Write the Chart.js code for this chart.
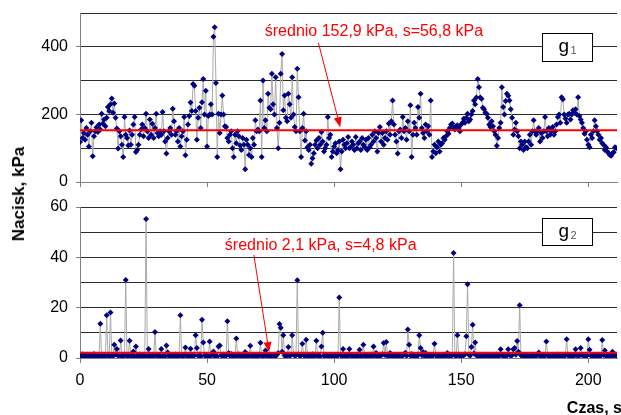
<!DOCTYPE html>
<html><head><meta charset="utf-8">
<script src="https://cdn.jsdelivr.net/npm/chart.js@4.4.1/dist/chart.umd.min.js"></script>
<style>
html,body{margin:0;padding:0;background:#fff;width:621px;height:415px;overflow:hidden;}
#c1{position:absolute;left:0;top:0;}
#c2{position:absolute;left:0;top:195px;}
#ylab{position:absolute;left:19px;top:194px;transform:translate(-50%,-50%) rotate(-90deg);font:bold 17px "Liberation Sans",Arial,sans-serif;white-space:nowrap;color:#000;}
</style></head><body>
<canvas id="c1" width="621" height="195"></canvas>
<canvas id="c2" width="621" height="220"></canvas>
<div id="ylab">Nacisk, kPa</div>
<script>
// sampling interval of the record, s
const sampleStep = 0.5;

// g1 pressure, kPa (every 0.5 s)
const g1Values = [
118,183,130,145,125,160,140,105,150,175,76,135,150,162,148,170,155,202,172,185,
165,190,222,210,230,247,205,232,190,158,99,150,135,110,74,192,140,130,108,152,
110,140,170,192,89,95,110,140,155,170,135,160,202,150,130,185,140,172,130,160,
202,145,135,150,140,207,150,120,84,130,150,160,140,217,180,140,150,120,160,105,
135,150,192,79,125,170,195,235,210,290,285,210,125,190,220,160,236,305,200,270,
105,195,200,230,200,430,458,293,74,202,145,200,256,200,165,163,130,120,140,150,
100,74,140,115,150,135,108,95,130,110,38,125,110,80,100,74,130,110,183,150,
155,150,241,74,300,160,183,150,261,220,215,320,230,200,310,160,100,175,320,379,
212,256,190,180,261,230,190,310,200,163,150,335,251,150,74,160,202,123,150,103,
95,110,54,70,85,110,123,100,130,110,148,120,90,100,110,192,130,140,74,90,
105,115,85,95,120,38,90,125,110,100,115,133,100,103,120,110,95,133,100,115,
120,95,130,110,103,125,95,130,103,110,140,120,150,130,90,145,163,120,145,110,
130,150,125,173,140,180,241,170,140,120,84,150,155,130,192,150,160,125,180,150,
227,74,140,175,160,140,222,190,261,160,145,130,170,150,165,140,241,74,90,110,
85,103,120,90,110,115,130,125,135,150,143,160,170,173,160,155,165,168,160,150,
170,175,187,175,190,202,180,185,200,210,241,230,250,305,280,250,246,220,215,205,
202,190,170,163,180,165,150,140,107,130,160,175,280,222,200,240,261,255,241,215,
190,140,155,175,150,135,100,120,110,95,120,103,100,120,140,110,150,183,150,140,
150,160,120,145,130,150,192,150,135,160,140,150,163,140,150,170,192,200,175,251,
245,200,188,175,200,202,185,200,212,205,215,200,251,195,185,175,160,143,150,125,
110,103,140,130,150,183,165,150,140,125,130,115,110,95,103,90,85,80,78,85,
88,103,100
];

// g2 pressure, kPa (every 0.5 s)
const g2Values = [
1.2,0.8,1.5,0.6,1.0,0.4,1.3,0.9,0.5,1.1,0.7,1.6,0.8,0.3,1.0,0.6,13.6,1.2,0.5,0.9,
0.8,17,1.0,0.6,18.1,1.2,0.7,5.3,1.5,3.6,0.9,0.5,7,1.1,0.6,1.3,31,0.8,1.0,6.9,
0.7,1.2,2.6,0.5,4.6,1.0,0.4,1.4,0.8,0.6,1.1,0.9,55.2,0.7,3.6,1.2,0.5,1.0,0.8,10.3,
1.1,0.6,1.3,0.9,3.6,0.4,1.0,0.7,5.0,2.2,0.8,0.3,1.2,0.6,0.9,1.4,0.5,1.1,0.8,17,
1.0,0.6,1.3,4.2,0.8,1.1,0.5,3.7,1.2,0.7,1.0,9.0,4.0,0.9,1.4,0.6,15.2,6.2,1.0,0.7,
1.2,0.5,6.6,0.9,1.3,2.6,0.7,1.0,0.6,4.6,5.0,1.1,0.8,1.4,0.5,1.0,14.6,2.0,0.9,1.6,
0.8,1.2,0.6,7.7,1.0,1.5,0.7,0.4,1.1,0.9,2.4,0.6,1.2,0.8,4.9,1.0,0.5,1.3,0.7,1.0,
0.6,1.2,6.1,0.9,0.5,1.1,3.0,0.8,1.3,0.6,1.0,0.4,1.2,0.9,0.7,1.4,2.0,13.5,12.0,2.5,
9.0,1.0,0.5,1.3,4.4,0.8,1.2,9.0,1.5,0.9,1.1,30.9,1.4,0.8,1.0,5.7,1.2,0.7,7.3,1.0,
0.6,1.3,0.9,1.5,0.7,1.1,6.9,0.8,1.2,0.6,4.6,10.0,1.0,0.5,1.3,0.9,0.7,1.1,0.6,1.0,
0.8,1.2,0.6,1.0,24.0,1.3,0.7,3.6,0.9,0.5,1.1,0.8,3.6,1.2,0.6,1.0,0.4,0.9,1.3,0.7,
3.3,1.0,0.6,5.3,1.2,0.8,1.1,0.5,0.9,1.4,0.7,4.6,1.0,2.0,0.6,1.2,0.8,1.0,1.5,6.0,
1.2,6.4,0.8,1.1,2.0,0.6,1.0,0.9,1.3,0.5,1.1,0.8,1.2,0.6,1.0,1.4,2.1,0.9,11.3,5.3,
1.0,1.6,0.7,1.2,0.9,0.5,1.3,9.0,4.0,1.1,2.4,0.8,2.0,0.6,1.2,0.9,1.0,0.5,1.3,5.7,
1.1,0.7,1.2,0.9,0.5,1.0,1.3,0.8,1.1,2.0,0.6,1.0,0.9,1.2,41.7,1.0,0.7,9.0,1.3,0.8,
1.0,0.6,1.2,1.5,8.6,29.3,1.3,0.9,4.4,13.2,1.8,6.2,1.0,0.7,1.2,0.5,0.9,1.1,0.6,1.0,
1.3,0.8,1.1,0.6,1.0,1.2,0.7,0.9,1.4,0.5,1.0,3.5,1.2,0.8,1.1,0.6,1.0,3.5,1.3,0.9,
1.1,3.5,4.0,1.3,6.8,2.5,21.0,1.2,0.7,1.0,0.6,1.2,0.9,0.5,1.1,0.8,1.3,0.6,1.0,0.9,
1.2,2.2,0.8,1.0,0.6,1.3,0.9,6.6,1.1,0.7,1.0,0.5,1.2,0.8,1.1,0.6,1.4,0.9,1.0,0.7,
1.1,0.6,1.3,7.5,1.0,0.8,1.2,0.5,1.1,0.9,3.5,1.2,0.7,1.0,4.0,1.3,0.8,1.1,0.6,1.0,
7.5,3.3,1.0,0.6,1.2,0.9,1.1,0.5,1.3,0.8,1.0,7.2,1.2,3.0,0.7,1.1,0.9,1.2,0.6,2.5,
1.0,1.4,0.8
];

const g1Mean = 152.9;
const g2Mean = 2.1;
const g1Text = 'średnio 152,9 kPa, s=56,8 kPa';
const g2Text = 'średnio 2,1 kPa, s=4,8 kPa';
const xTicks = [0, 50, 100, 150, 200];
const g1YLabels = [0, 200, 400];
const g2YLabels = [0, 20, 40, 60];
const xTitle = 'Czas, s';

const FONT = '"Liberation Sans", Arial, sans-serif';
Chart.defaults.font.family = FONT;
Chart.defaults.color = '#000';
const X_MAX = 211.3;

const annotPlugin = {
  id: 'annot',
  afterDatasetsDraw(chart, args, o) {
    const ctx = chart.ctx, x = chart.scales.x, y = chart.scales.y;
    ctx.save();
    ctx.font = '16px ' + FONT;
    ctx.fillStyle = '#ff0000';
    ctx.textAlign = 'left';
    ctx.textBaseline = 'middle';
    ctx.fillText(o.text, x.getPixelForValue(o.tx), y.getPixelForValue(o.ty));
    const x1 = x.getPixelForValue(o.arrow[0]), y1 = y.getPixelForValue(o.arrow[1]);
    const x2 = x.getPixelForValue(o.arrow[2]), y2 = y.getPixelForValue(o.arrow[3]);
    ctx.strokeStyle = '#ff0000'; ctx.lineWidth = 1;
    const ang = Math.atan2(y2 - y1, x2 - x1), L = 10, W = 4;
    ctx.beginPath(); ctx.moveTo(x1, y1);
    ctx.lineTo(x2 - L * Math.cos(ang), y2 - L * Math.sin(ang)); ctx.stroke();
    ctx.beginPath(); ctx.moveTo(x2, y2);
    ctx.lineTo(x2 - L * Math.cos(ang) + W * Math.sin(ang), y2 - L * Math.sin(ang) - W * Math.cos(ang));
    ctx.lineTo(x2 - L * Math.cos(ang) - W * Math.sin(ang), y2 - L * Math.sin(ang) + W * Math.cos(ang));
    ctx.closePath(); ctx.fill();
    const bx1 = Math.round(x.getPixelForValue(o.box[0])) + 0.5, bx2 = Math.round(x.getPixelForValue(o.box[1])) + 0.5;
    const by1 = Math.round(y.getPixelForValue(o.box[2])) + 0.5, by2 = Math.round(y.getPixelForValue(o.box[3])) + 0.5;
    ctx.fillStyle = '#fff'; ctx.fillRect(bx1, by1, bx2 - bx1, by2 - by1);
    ctx.strokeStyle = '#000'; ctx.lineWidth = 1; ctx.strokeRect(bx1, by1, bx2 - bx1, by2 - by1);
    ctx.textBaseline = 'alphabetic';
    ctx.fillStyle = '#000'; ctx.font = '19px ' + FONT;
    ctx.fillText('g', bx1 + 16, by1 + 18);
    ctx.fillStyle = '#555'; ctx.font = '11px ' + FONT;
    ctx.fillText(o.sub, bx1 + 28, by1 + 20);
    if (o.title) {
      ctx.fillStyle = '#000'; ctx.font = 'bold 16px ' + FONT;
      ctx.textAlign = 'right';
      ctx.fillText(o.title, chart.width + 1, chart.height - 2);
    }
    ctx.restore();
  }
};

function panel(id, values, mean, yMax, yStep, yLabels, annot, showX, xH, padTop) {
  const pts = values.map((v, i) => ({ x: i * sampleStep, y: v }));
  return new Chart(document.getElementById(id), {
    type: 'line',
    data: { datasets: [
      { data: [{ x: 0, y: mean }, { x: X_MAX, y: mean }], borderColor: '#ff0000', borderWidth: 2, pointRadius: 0, order: 0 },
      { data: pts, borderColor: '#aaaaaa', borderWidth: 1, pointStyle: 'rectRot', pointRadius: 3,
        pointBackgroundColor: '#000080', pointBorderColor: '#000080', pointBorderWidth: 0, order: 1 }
    ] },
    options: {
      responsive: false, animation: false, devicePixelRatio: 1,
      layout: { padding: { top: padTop, right: 0, bottom: 0, left: 0 } },
      plugins: { legend: { display: false }, tooltip: { enabled: false }, annot: annot },
      scales: {
        x: { type: 'linear', min: 0, max: X_MAX,
          afterBuildTicks: ax => { ax.ticks = xTicks.map(v => ({ value: v })); },
          afterFit: ax => { ax.height = xH; ax.paddingLeft = 0; ax.paddingRight = 0; },
          grid: { drawOnChartArea: false, drawTicks: true, tickLength: 5, color: '#808080' },
          border: { color: '#808080', width: 1 },
          ticks: { display: showX, padding: 8, font: { size: 16 }, maxRotation: 0, autoSkip: false } },
        y: { min: 0, max: yMax,
          afterFit: ax => { ax.width = 80; ax.paddingTop = 0; ax.paddingBottom = 0; },
          ticks: { stepSize: yStep, padding: 8, font: { size: 16 },
            callback: v => yLabels.includes(v) ? String(v) : '' },
          grid: { color: '#2b2b2b', tickLength: 4,
            tickColor: c => (c.tick && yLabels.includes(c.tick.value)) ? '#808080' : 'rgba(0,0,0,0)' },
          border: { color: '#808080', width: 1 } }
      }
    },
    plugins: [annotPlugin]
  });
}

panel('c1', g1Values, g1Mean, 500, 100, g1YLabels,
  { text: g1Text, tx: 72.7, ty: 444, arrow: [93.8, 412, 102.4, 162], box: [181.6, 201.6, 441, 358], sub: '1' },
  false, 13, 13);
panel('c2', g2Values, g2Mean, 60, 10, g2YLabels,
  { text: g2Text, tx: 57, ty: 44.8, arrow: [68.4, 41, 74.4, 2.4], box: [181.6, 201.6, 55.6, 44.8], sub: '2', title: xTitle },
  true, 57, 12);
</script>
</body></html>
